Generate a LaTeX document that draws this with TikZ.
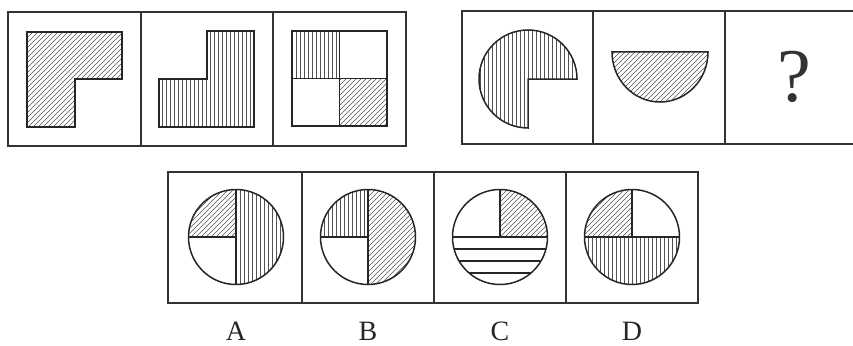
\documentclass[tikz,border=0pt]{standalone}
\usepackage{fontspec}
\setmainfont{Liberation Serif}
\newcommand\Dhatch{\foreach \t in {-130,-125,...,130} \draw[hl] (\t-65,65) -- (\t+65,-65);}
\newcommand\Vhatch{\foreach \t in {-64,-60,...,64} \draw[hl] (\t,-65) -- (\t,65);}
\begin{document}
\begin{tikzpicture}[x=1pt,y=-1pt,
  frame/.style={draw=black!80,line width=1.8pt},
  fig/.style={draw=black!85,line width=1.5pt,line join=miter},
  hl/.style={draw=black!68,line width=0.6pt},
  lab/.style={font=\fontsize{28}{28}\selectfont,inner sep=0pt,text=black!85}]
\useasboundingbox (0,0) rectangle (853,345);

% ---------- top-left strip ----------
\draw[frame] (8,12) rectangle (406,146);
\draw[frame] (141,12) -- (141,146);
\draw[frame] (273,12) -- (273,146);
% cell 1: L shape, diagonal
\begin{scope}
  \clip (27,32) -- (122,32) -- (122,79) -- (75,79) -- (75,127) -- (27,127) -- cycle;
  \begin{scope}[shift={(75,80)}]\Dhatch\end{scope}
\end{scope}
\draw[fig] (27,32) -- (122,32) -- (122,79) -- (75,79) -- (75,127) -- (27,127) -- cycle;
% cell 2: L shape, vertical
\begin{scope}
  \clip (159,79) -- (207,79) -- (207,31) -- (254,31) -- (254,127) -- (159,127) -- cycle;
  \begin{scope}[shift={(206,79)}]\Vhatch\end{scope}
\end{scope}
\draw[fig] (159,79) -- (207,79) -- (207,31) -- (254,31) -- (254,127) -- (159,127) -- cycle;
% cell 3: quartered square
\begin{scope}
  \clip (292,31) rectangle (339.5,78.5);
  \begin{scope}[shift={(316,55)}]\Vhatch\end{scope}
\end{scope}
\begin{scope}
  \clip (339.5,78.5) rectangle (387,126);
  \begin{scope}[shift={(363,102)}]\Dhatch\end{scope}
\end{scope}
\draw[fig] (292,31) rectangle (387,126);
\draw[fig] (339.5,31) -- (339.5,126);
\draw[fig] (292,78.5) -- (387,78.5);

% ---------- top-right strip ----------
\draw[frame] (462,11) rectangle (856,144);
\draw[frame] (593,11) -- (593,144);
\draw[frame] (725,11) -- (725,144);
% pie
\begin{scope}
  \clip (528,79) -- (577,79) arc[start angle=0,end angle=-270,radius=49] -- cycle;
  \begin{scope}[shift={(528,79)}]\Vhatch\end{scope}
\end{scope}
\draw[fig] (528,79) -- (577,79) arc[start angle=0,end angle=-270,radius=49] -- cycle;
% half disc
\begin{scope}
  \clip (612,52) arc[start angle=180,end angle=0,x radius=48,y radius=50] -- cycle;
  \begin{scope}[shift={(660,77)}]\Dhatch\end{scope}
\end{scope}
\draw[fig] (612,52) arc[start angle=180,end angle=0,x radius=48,y radius=50] -- cycle;
% question mark
\node[font=\fontsize{76}{76}\selectfont,inner sep=0pt,text=black!80] (q) at (794,77) {?};

% ---------- bottom strip ----------
\draw[frame] (168,172) rectangle (698,303);
\draw[frame] (302,172) -- (302,303);
\draw[frame] (434,172) -- (434,303);
\draw[frame] (566,172) -- (566,303);

% A
\begin{scope}
  \clip (236,237) -- (188.5,237) arc[start angle=180,end angle=270,radius=47.5] -- cycle;
  \begin{scope}[shift={(236,237)}]\Dhatch\end{scope}
\end{scope}
\begin{scope}
  \clip (236,189.5) arc[start angle=-90,end angle=90,radius=47.5] -- cycle;
  \begin{scope}[shift={(236,237)}]\Vhatch\end{scope}
\end{scope}
\draw[fig] (236,237) circle[radius=47.5];
\draw[fig] (236,189.5) -- (236,284.5);
\draw[fig] (188.5,237) -- (236,237);

% B
\begin{scope}
  \clip (368,237) -- (320.5,237) arc[start angle=180,end angle=270,radius=47.5] -- cycle;
  \begin{scope}[shift={(368,237)}]\Vhatch\end{scope}
\end{scope}
\begin{scope}
  \clip (368,189.5) arc[start angle=-90,end angle=90,radius=47.5] -- cycle;
  \begin{scope}[shift={(368,237)}]\Dhatch\end{scope}
\end{scope}
\draw[fig] (368,237) circle[radius=47.5];
\draw[fig] (368,189.5) -- (368,284.5);
\draw[fig] (320.5,237) -- (368,237);

% C
\begin{scope}
  \clip (500,237) -- (500,189.5) arc[start angle=-90,end angle=0,radius=47.5] -- cycle;
  \begin{scope}[shift={(500,237)}]\Dhatch\end{scope}
\end{scope}
\begin{scope}
  \clip (500,237) circle[radius=47.5];
  \draw[fig] (450,249) -- (550,249);
  \draw[fig] (450,261) -- (550,261);
  \draw[fig] (450,273) -- (550,273);
\end{scope}
\draw[fig] (500,237) circle[radius=47.5];
\draw[fig] (500,189.5) -- (500,237);
\draw[fig] (452.5,237) -- (547.5,237);

% D
\begin{scope}
  \clip (632,237) -- (584.5,237) arc[start angle=180,end angle=270,radius=47.5] -- cycle;
  \begin{scope}[shift={(632,237)}]\Dhatch\end{scope}
\end{scope}
\begin{scope}
  \clip (584.5,237) arc[start angle=180,end angle=0,radius=47.5] -- cycle;
  \begin{scope}[shift={(632,237)}]\Vhatch\end{scope}
\end{scope}
\draw[fig] (632,237) circle[radius=47.5];
\draw[fig] (632,189.5) -- (632,237);
\draw[fig] (584.5,237) -- (679.5,237);

% labels
\node[lab] (la) at (236,331) {A};
\node[lab] (lb) at (368,331) {B};
\node[lab] (lc) at (500,331) {C};
\node[lab] (ld) at (632,331) {D};
\end{tikzpicture}
\end{document}
